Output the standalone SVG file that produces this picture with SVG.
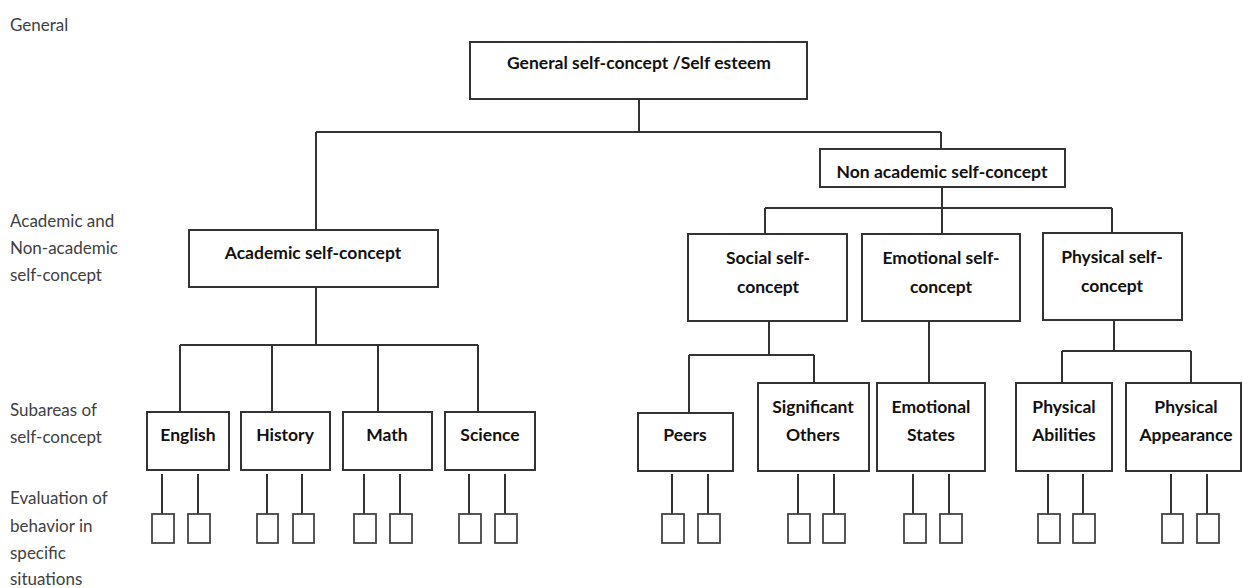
<svg xmlns="http://www.w3.org/2000/svg" width="1243" height="588" viewBox="0 0 1243 588">
<style>
.box{fill:#fff;stroke:#333;stroke-width:2}
.sm{fill:#fff;stroke:#444;stroke-width:1.8}
.ln{fill:none;stroke:#333;stroke-width:2}
.t{font-family:Lato,"Liberation Sans",sans-serif;font-weight:bold;font-size:17.5px;fill:#111;text-anchor:middle}
.lb{font-family:Lato,"Liberation Sans",sans-serif;font-size:17px;fill:#404040}
</style>
<rect width="1243" height="588" fill="#fff"/>
<g id="labels">
<text class="lb" x="10" y="31">General</text>
<text class="lb" x="10" y="227">Academic and</text>
<text class="lb" x="10" y="254">Non-academic</text>
<text class="lb" x="10" y="281">self-concept</text>
<text class="lb" x="10" y="416">Subareas of</text>
<text class="lb" x="10" y="443">self-concept</text>
<text class="lb" x="10" y="504">Evaluation of</text>
<text class="lb" x="10" y="532">behavior in</text>
<text class="lb" x="10" y="559">specific</text>
<text class="lb" x="10" y="585">situations</text>
</g>
<g id="connectors" class="ln">
<path d="M639 99V132M316 132H941M316 132V230M941 132V149"/>
<path d="M942 187V208M765 208H1112M765 208V234M942 208V234M1112 208V233"/>
<path d="M316 287V345M180 345H478M180 345V412M272 345V412M378 345V412M478 345V412"/>
<path d="M769 321V355M689 355H814M689 355V413M814 355V383"/>
<path d="M929 321V383"/>
<path d="M1114 320V351M1062 351H1191M1062 351V383M1191 351V383"/>
<path d="M162 474V514M198 474V514M267 474V514M302 474V514M364 474V514M400 474V514M469 474V514M505 474V514"/>
<path d="M672 474V514M708 474V514M798 474V514M834 474V514M913 474V514M949 474V514"/>
<path d="M1048 474V514M1083 474V514M1171 474V514M1207 474V514"/>
</g>
<g id="n-general"><rect class="box" x="470" y="42" width="337" height="57"/><text class="t" x="639" y="69">General self-concept /Self esteem</text></g>
<g id="n-nonacademic"><rect class="box" x="820" y="149" width="245" height="38"/><text class="t" x="942" y="178">Non academic self-concept</text></g>
<g id="n-academic"><rect class="box" x="189" y="230" width="249" height="57"/><text class="t" x="313" y="259">Academic self-concept</text></g>
<g id="n-social"><rect class="box" x="688" y="234" width="159" height="87"/><text class="t" x="768" y="264">Social self-</text><text class="t" x="768" y="293">concept</text></g>
<g id="n-emotional"><rect class="box" x="862" y="234" width="158" height="87"/><text class="t" x="941" y="264">Emotional self-</text><text class="t" x="941" y="293">concept</text></g>
<g id="n-physical"><rect class="box" x="1043" y="233" width="139" height="87"/><text class="t" x="1112" y="263">Physical self-</text><text class="t" x="1112" y="292">concept</text></g>
<g id="n-english"><rect class="box" x="147" y="412" width="82" height="58"/><text class="t" x="188" y="441">English</text></g>
<g id="n-history"><rect class="box" x="241" y="412" width="89" height="58"/><text class="t" x="285" y="441">History</text></g>
<g id="n-math"><rect class="box" x="343" y="412" width="89" height="58"/><text class="t" x="387" y="441">Math</text></g>
<g id="n-science"><rect class="box" x="445" y="412" width="90" height="58"/><text class="t" x="490" y="441">Science</text></g>
<g id="n-peers"><rect class="box" x="638" y="413" width="95" height="58"/><text class="t" x="685" y="441">Peers</text></g>
<g id="n-significant"><rect class="box" x="758" y="383" width="111" height="88"/><text class="t" x="813" y="413">Significant</text><text class="t" x="813" y="441">Others</text></g>
<g id="n-emostates"><rect class="box" x="877" y="383" width="108" height="88"/><text class="t" x="931" y="413">Emotional</text><text class="t" x="931" y="441">States</text></g>
<g id="n-abilities"><rect class="box" x="1016" y="383" width="96" height="88"/><text class="t" x="1064" y="413">Physical</text><text class="t" x="1064" y="441">Abilities</text></g>
<g id="n-appearance"><rect class="box" x="1126" y="383" width="115" height="88"/><text class="t" x="1186" y="413">Physical</text><text class="t" x="1186" y="441">Appearance</text></g>
<g id="evaluations">
<rect class="sm" x="152" y="514" width="22" height="29"/><rect class="sm" x="188" y="514" width="22" height="29"/>
<rect class="sm" x="257" y="514" width="21" height="29"/><rect class="sm" x="293" y="514" width="21" height="29"/>
<rect class="sm" x="354" y="514" width="22" height="29"/><rect class="sm" x="390" y="514" width="22" height="29"/>
<rect class="sm" x="459" y="514" width="22" height="29"/><rect class="sm" x="495" y="514" width="22" height="29"/>
<rect class="sm" x="662" y="514" width="22" height="29"/><rect class="sm" x="698" y="514" width="22" height="29"/>
<rect class="sm" x="788" y="514" width="22" height="29"/><rect class="sm" x="823" y="514" width="22" height="29"/>
<rect class="sm" x="904" y="514" width="22" height="29"/><rect class="sm" x="940" y="514" width="22" height="29"/>
<rect class="sm" x="1038" y="514" width="22" height="29"/><rect class="sm" x="1073" y="514" width="22" height="29"/>
<rect class="sm" x="1162" y="514" width="21" height="29"/><rect class="sm" x="1197" y="514" width="22" height="29"/>
</g>
</svg>
